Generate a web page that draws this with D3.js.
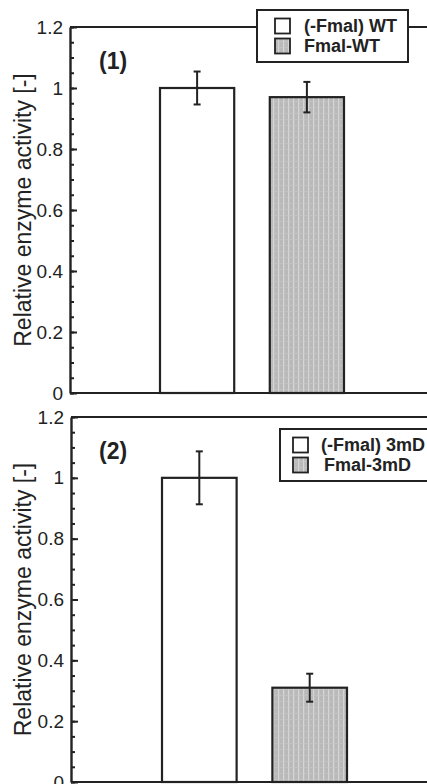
<!DOCTYPE html>
<html>
<head>
<meta charset="utf-8">
<script src="https://cdn.jsdelivr.net/npm/d3@7"></script>
<style>
  html, body { margin: 0; padding: 0; background: #fff; }
  svg { display: block; }
</style>
</head>
<body>
<svg id="chart" width="427" height="784"></svg>
<script>
// ---- data ----
const panelLabels = ["(1)", "(2)"];
const categories1 = ["(-Fmal) WT", "Fmal-WT"];
const values1 = [1.0, 0.97];
const errors1 = [0.054, 0.05];
const categories2 = ["(-Fmal) 3mD", "Fmal-3mD"];
const values2 = [1.0, 0.31];
const errors2 = [0.087, 0.046];
const yMajorTicks = [0, 0.2, 0.4, 0.6, 0.8, 1.0, 1.2];
const yTickLabels = ["0", "0.2", "0.4", "0.6", "0.8", "1", "1.2"];
const yMinorTicks = d3.range(0, 1.2001, 0.05);
const yAxisTitle = "Relative enzyme activity [-]";

const svg = d3.select("#chart");
const FONT = "'Liberation Sans', Arial, Helvetica, sans-serif";

// stripe pattern for the grey bars
const defs = svg.append("defs");
const pat = defs.append("pattern").attr("id", "grey").attr("patternUnits", "userSpaceOnUse")
  .attr("width", 5).attr("height", 6);
pat.append("rect").attr("width", 5).attr("height", 6).attr("fill", "#b9b9b9");
pat.append("rect").attr("x", 3).attr("width", 1.2).attr("height", 6).attr("fill", "#d6d6d6");
pat.append("rect").attr("x", 0).attr("y", 5).attr("width", 5).attr("height", 0.6).attr("fill", "#c8c8c8");

const panels = [
  { cats: categories1, vals: values1, errs: errors1, label: panelLabels[0],
    left: 70, top: 27, bottom: 393, xr: [160, 344],
    legend: { x: 257, y: 10, w: 151, h: 52, sx: 275, tx: 304, tx2: 304, rows: [26, 46] } },
  { cats: categories2, vals: values2, errs: errors2, label: panelLabels[1],
    left: 71, top: 417, bottom: 782, xr: [162, 347],
    legend: { x: 280, y: 429, w: 160, h: 52, sx: 293, tx: 321, tx2: 324, rows: [445, 465] } }
];

panels.forEach(p => {
  const g = svg.append("g");
  const y = d3.scaleLinear().domain([0, 1.2]).range([p.bottom, p.top]);
  const x = d3.scaleBand().domain(p.cats).range(p.xr).paddingInner(0.324).paddingOuter(0);

  // frame lines: top and bottom
  g.append("line").attr("x1", p.left).attr("x2", 427).attr("y1", y(1.2)).attr("y2", y(1.2))
    .attr("stroke", "#222").attr("stroke-width", 2.2);
  g.append("line").attr("x1", p.left).attr("x2", 427).attr("y1", y(0)).attr("y2", y(0))
    .attr("stroke", "#222").attr("stroke-width", 2.2);

  // minor ticks
  const minor = d3.axisLeft(y).tickValues(yMinorTicks).tickSizeInner(-4).tickSizeOuter(0).tickFormat("");
  g.append("g").attr("transform", `translate(${p.left},0)`).call(minor)
    .call(s => s.select(".domain").remove())
    .call(s => s.selectAll(".tick line").attr("stroke", "#222").attr("stroke-width", 2));

  // major axis
  const major = d3.axisLeft(y).tickValues(yMajorTicks).tickSizeInner(-7).tickSizeOuter(0).tickPadding(7)
    .tickFormat((d, i) => yTickLabels[i]);
  g.append("g").attr("transform", `translate(${p.left},0)`).call(major)
    .call(s => s.select(".domain").attr("stroke", "#222").attr("stroke-width", 2.4))
    .call(s => s.selectAll(".tick line").attr("stroke", "#222").attr("stroke-width", 2))
    .call(s => s.selectAll(".tick text").attr("font-family", FONT).attr("font-size", 19).attr("fill", "#222"));

  // axis title
  g.append("text").attr("transform", `translate(31,${(p.top + p.bottom) / 2}) rotate(-90)`)
    .attr("text-anchor", "middle").attr("font-family", FONT).attr("font-size", 23).attr("fill", "#222")
    .text(yAxisTitle);

  // bars
  g.selectAll("rect.bar").data(p.cats).join("rect").attr("class", "bar")
    .attr("x", d => x(d)).attr("width", x.bandwidth())
    .attr("y", (d, i) => y(p.vals[i])).attr("height", (d, i) => y(0) - y(p.vals[i]))
    .attr("fill", (d, i) => i === 0 ? "#fff" : "url(#grey)")
    .attr("stroke", "#222").attr("stroke-width", 2.2);

  // error bars
  const eb = g.selectAll("g.err").data(p.cats).join("g").attr("class", "err");
  eb.append("line").attr("x1", d => x(d) + x.bandwidth() / 2).attr("x2", d => x(d) + x.bandwidth() / 2)
    .attr("y1", (d, i) => y(p.vals[i] + p.errs[i])).attr("y2", (d, i) => y(p.vals[i] - p.errs[i]))
    .attr("stroke", "#222").attr("stroke-width", 2);
  [1, -1].forEach(sg => {
    eb.append("line").attr("x1", d => x(d) + x.bandwidth() / 2 - 3.5).attr("x2", d => x(d) + x.bandwidth() / 2 + 3.5)
      .attr("y1", (d, i) => y(p.vals[i] + sg * p.errs[i])).attr("y2", (d, i) => y(p.vals[i] + sg * p.errs[i]))
      .attr("stroke", "#222").attr("stroke-width", 2);
  });

  // panel label
  g.append("text").attr("x", 99).attr("y", y(1.2) + 42).attr("font-family", FONT).attr("font-weight", "bold")
    .attr("font-size", 23).attr("fill", "#222").text(p.label);

  // legend
  const L = p.legend;
  g.append("rect").attr("x", L.x).attr("y", L.y).attr("width", L.w).attr("height", L.h)
    .attr("fill", "#fff").attr("stroke", "#222").attr("stroke-width", 2);
  p.cats.forEach((c, i) => {
    g.append("rect").attr("x", L.sx).attr("y", L.rows[i] - 7.5).attr("width", 15).attr("height", 15)
      .attr("fill", i === 0 ? "#fff" : "url(#grey)").attr("stroke", "#222").attr("stroke-width", 1.8);
    g.append("text").attr("x", i === 0 ? L.tx : L.tx2).attr("y", L.rows[i]).attr("dy", "0.36em")
      .attr("font-family", FONT).attr("font-weight", "bold").attr("font-size", 18).attr("fill", "#222").text(c);
  });
});
</script>
</body>
</html>
